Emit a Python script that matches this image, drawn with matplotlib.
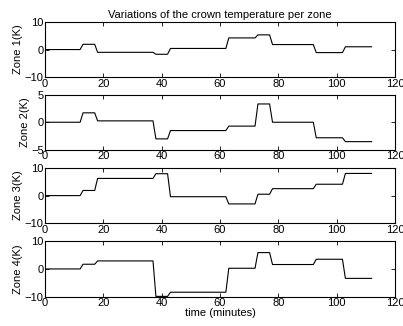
import matplotlib
matplotlib.use('Agg')
import matplotlib.pyplot as plt

# time points (minutes) of each corner of the step profile
t = [0, 12, 13, 17, 18, 37, 38, 42, 43, 62, 63, 72, 73, 77, 78, 92, 93, 102, 103, 112]

zone1 = [0, 0, 1.9, 1.9, -1.0, -1.0, -1.7, -1.7, 0.4, 0.4, 4.2, 4.2, 5.3, 5.3, 1.8, 1.8, -1.1, -1.1, 1.0, 1.0]
zone2 = [0, 0, 1.7, 1.7, 0.25, 0.25, -3.0, -3.0, -1.5, -1.5, -0.7, -0.7, 3.3, 3.3, 0, 0, -2.8, -2.8, -3.5, -3.5]
zone3 = [0, 0, 1.85, 1.85, 6.2, 6.2, 7.9, 7.9, -0.4, -0.4, -3.0, -3.0, 0.5, 0.5, 2.5, 2.5, 4.1, 4.1, 8.0, 8.0]
zone4 = [0, 0, 1.7, 1.7, 2.9, 2.9, -9.9, -9.9, -8.4, -8.4, 0.25, 0.25, 5.9, 5.9, 1.6, 1.6, 3.5, 3.5, -3.4, -3.4]

zones = [zone1, zone2, zone3, zone4]
labels = ['Zone 1(K)', 'Zone 2(K)', 'Zone 3(K)', 'Zone 4(K)']
ylims = [(-10, 10), (-5, 5), (-10, 10), (-10, 10)]
yticks = [[-10, 0, 10], [-5, 0, 5], [-10, 0, 10], [-10, 0, 10]]
xticks = [0, 20, 40, 60, 80, 100, 120]

plt.rcParams['font.family'] = ['Liberation Sans', 'DejaVu Sans']
plt.rcParams['font.size'] = 8

fig = plt.figure(figsize=(4.03, 3.26), dpi=100)

bottoms = [0.763, 0.540, 0.315, 0.090]
for i, z in enumerate(zones):
    ax = fig.add_axes([0.112, bottoms[i], 0.868, 0.170])
    ax.plot(t, z, color='k', linewidth=0.8)
    ax.set_xlim(0, 120)
    ax.set_ylim(*ylims[i])
    ax.set_xticks(xticks)
    ax.set_yticks(yticks[i])
    ax.tick_params(direction='in', top=True, right=True, length=3, width=0.6, pad=1, labelsize=8)
    for s in ax.spines.values():
        s.set_linewidth(0.8)
    ax.set_ylabel(labels[i], labelpad=1)
    if i == 0:
        ax.set_title('Variations of the crown temperature per zone', fontsize=8, pad=3)
    if i == 3:
        ax.set_xlabel('time (minutes)', labelpad=0)

fig.savefig('out.png', dpi=100)
